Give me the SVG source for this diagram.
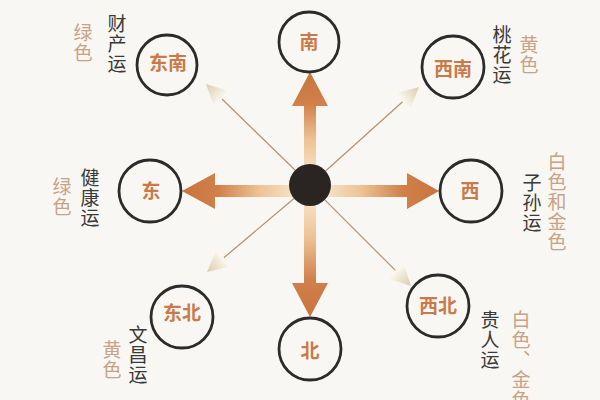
<svg xmlns="http://www.w3.org/2000/svg" xmlns:xlink="http://www.w3.org/1999/xlink" width="600" height="400" viewBox="0 0 600 400">
<style>
.ring{fill:none;stroke:#2b2b2b;stroke-width:2.8}
.lbl{font-family:"Noto Sans CJK SC","Noto Sans",sans-serif;font-size:19px;font-weight:700;fill:#c97a48;text-anchor:middle;dominant-baseline:central}
.vt{font-family:"Noto Sans CJK SC","Noto Sans",sans-serif;font-size:19px;writing-mode:vertical-rl;letter-spacing:1px}
.dark{fill:#3a3a3a}
.tan{fill:#c9a286}
.thin{stroke:#b8906e;stroke-width:1.2;fill:none}
</style>
<defs>
<linearGradient id="gUp" gradientUnits="userSpaceOnUse" x1="310" y1="185" x2="310" y2="72">
<stop offset="0" stop-color="#fbf0dc"/><stop offset="0.4" stop-color="#eec294"/><stop offset="0.72" stop-color="#d0804a"/><stop offset="1" stop-color="#c9743e"/>
</linearGradient>
<linearGradient id="gDown" gradientUnits="userSpaceOnUse" x1="310" y1="185" x2="310" y2="317">
<stop offset="0" stop-color="#fbf0dc"/><stop offset="0.4" stop-color="#eec294"/><stop offset="0.72" stop-color="#d0804a"/><stop offset="1" stop-color="#c9743e"/>
</linearGradient>
<linearGradient id="gLeft" gradientUnits="userSpaceOnUse" x1="310" y1="191" x2="182" y2="191">
<stop offset="0" stop-color="#fbf0dc"/><stop offset="0.4" stop-color="#eec294"/><stop offset="0.72" stop-color="#d0804a"/><stop offset="1" stop-color="#c9743e"/>
</linearGradient>
<linearGradient id="gRight" gradientUnits="userSpaceOnUse" x1="310" y1="191" x2="439" y2="191">
<stop offset="0" stop-color="#fbf0dc"/><stop offset="0.4" stop-color="#eec294"/><stop offset="0.72" stop-color="#d0804a"/><stop offset="1" stop-color="#c9743e"/>
</linearGradient>
<linearGradient id="gHead" x1="1" y1="0" x2="0" y2="0">
<stop offset="0" stop-color="#ddcca8"/><stop offset="0.6" stop-color="#efe6d2"/><stop offset="1" stop-color="#fbf9f3"/>
</linearGradient>
<path id="lh" d="M0,0 L-22,-11 L-22,11 Z" fill="url(#gHead)"/>
</defs>
<rect width="600" height="400" fill="#f8f7f3"/>

<g id="connectors">
<polygon fill="url(#gUp)" points="304,185 304,106 292,106 310,72 328,106 316,106 316,185"/>
<polygon fill="url(#gDown)" points="304,185 304,283 292,283 310,317 328,283 316,283 316,185"/>
<polygon fill="url(#gLeft)" points="310,185 215,185 215,173 182,191 215,209 215,197 310,197"/>
<polygon fill="url(#gRight)" points="310,185 407,185 407,173 439,191 407,209 407,197 310,197"/>
<line class="thin" x1="295" y1="170" x2="222" y2="99"/>
<line class="thin" x1="325.6" y1="171" x2="402.6" y2="101.7"/>
<line class="thin" x1="294" y1="198.5" x2="223.8" y2="257.8"/>
<line class="thin" x1="324.8" y1="199.8" x2="395.4" y2="270.4"/>
<use xlink:href="#lh" transform="translate(206,84) rotate(224)"/>
<use xlink:href="#lh" transform="translate(419,87) rotate(-42)"/>
<use xlink:href="#lh" transform="translate(207,272) rotate(140)"/>
<use xlink:href="#lh" transform="translate(411,286) rotate(45)"/>
</g>

<g id="center"><circle cx="310" cy="185" r="21" fill="#2a2522"/></g>

<g id="node-nan"><circle class="ring" cx="309" cy="42" r="30"/><text class="lbl" x="309" y="40">南</text></g>
<g id="node-bei"><circle class="ring" cx="310" cy="349" r="31"/><text class="lbl" x="310" y="349">北</text></g>
<g id="node-dong"><circle class="ring" cx="150" cy="191" r="31"/><text class="lbl" x="151" y="189">东</text></g>
<g id="node-xi"><circle class="ring" cx="471" cy="191" r="31"/><text class="lbl" x="470" y="189">西</text></g>
<g id="node-dongnan"><circle class="ring" cx="167" cy="65" r="30"/><text class="lbl" x="168" y="61">东南</text></g>
<g id="node-xinan"><circle class="ring" cx="453" cy="67" r="31"/><text class="lbl" x="453" y="67">西南</text></g>
<g id="node-dongbei"><circle class="ring" cx="182" cy="317" r="31"/><text class="lbl" x="182" y="311">东北</text></g>
<g id="node-xibei"><circle class="ring" cx="438" cy="306" r="31"/><text class="lbl" x="438" y="304">西北</text></g>

<g id="notes">
<text class="vt dark" x="117" y="14">财产运</text>
<text class="vt tan" x="83" y="23">绿色</text>
<text class="vt dark" x="502" y="25">桃花运</text>
<text class="vt tan" x="529" y="35">黄色</text>
<text class="vt dark" x="532" y="173">子孙运</text>
<text class="vt tan" x="557" y="152">白色和金色</text>
<text class="vt dark" x="490" y="310">贵人运</text>
<text class="vt tan" x="521" y="310">白色、金色</text>
<text class="vt dark" x="138" y="325">文昌运</text>
<text class="vt tan" x="112" y="340">黄色</text>
<text class="vt dark" x="90" y="168">健康运</text>
<text class="vt tan" x="62" y="177">绿色</text>
</g>
</svg>
